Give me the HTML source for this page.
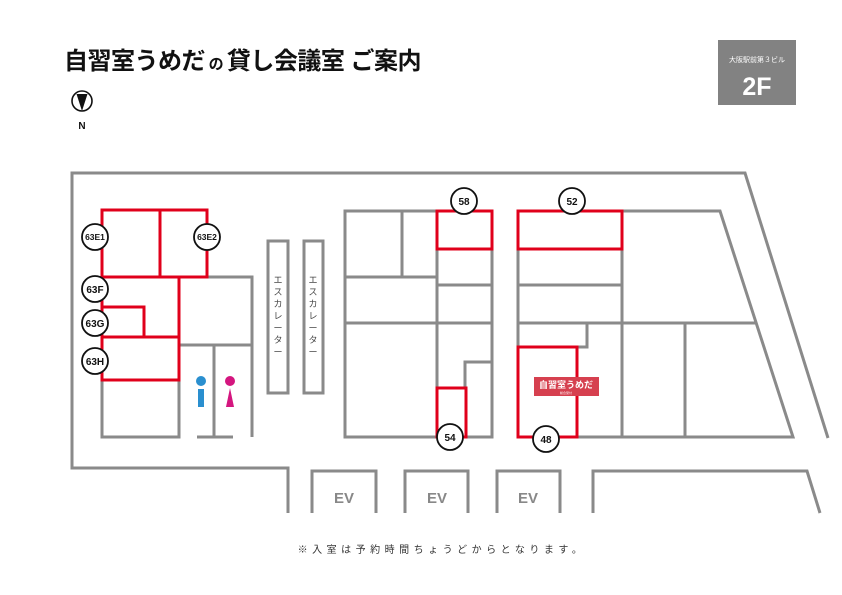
<!DOCTYPE html>
<html><head><meta charset="utf-8"><style>
body{margin:0;background:#fff;}
svg{display:block;font-family:"Liberation Sans","Noto Sans CJK JP",sans-serif;}
</style></head><body>
<svg width="842" height="595" viewBox="0 0 842 595" xmlns="http://www.w3.org/2000/svg">
<text x="64" y="69" font-size="24" font-weight="bold" fill="#111" letter-spacing="-0.5">自習室うめだ<tspan font-size="15"> の </tspan>貸し会議室 ご案内</text>
<circle cx="82" cy="101" r="10" fill="#fff" stroke="#111" stroke-width="1.6"/>
<path d="M76.5 94 L87.5 94 L82 111 Z" fill="#111"/>
<text x="82" y="129" font-size="10" font-weight="bold" text-anchor="middle" fill="#111">N</text>
<rect x="718" y="40" width="78" height="65" fill="#828282"/>
<text x="757" y="62" font-size="7" fill="#fff" text-anchor="middle">大阪駅前第３ビル</text>
<text x="757" y="95" font-size="25" font-weight="bold" fill="#fff" text-anchor="middle">2F</text>
<g fill="none" stroke="#8a8a8a" stroke-width="3">
<path d="M288 513 V468 H72 V173 H745 L828 438"/>
<path d="M312 513 V471 H376 V513"/>
<path d="M405 513 V471 H468 V513"/>
<path d="M497 513 V471 H560 V513"/>
<path d="M593 513 V471 H807 L820 513"/>
<path d="M207 277 H252 V437"/>
<path d="M179 345 H252"/>
<path d="M102 380 V437 H179 V380"/>
<path d="M214 345 V437 M197 437 H233"/>
<rect x="268" y="241" width="20" height="152"/>
<rect x="304" y="241" width="19" height="152"/>
<path d="M437 211 H345 V437 H492 V211"/>
<path d="M402 211 V277 M345 277 H437 M437 211 V437 M437 285 H492 M345 323 H492 M492 362 H465 V388"/>
<path d="M622 211 H720 L793 437 H518 V249"/>
<path d="M518 285 H622 M518 323 H755 M622 211 V437 M685 323 V437 M587 323 V347 H577"/>
</g>
<g fill="none" stroke="#e0001b" stroke-width="3">
<rect x="102" y="210" width="58" height="67"/>
<rect x="160" y="210" width="47" height="67"/>
<path d="M102 277 V380 H179 V277 M102 307 H144 V337 M102 337 H179"/>
<rect x="437" y="211" width="55" height="38"/>
<rect x="437" y="388" width="29" height="49"/>
<rect x="518" y="211" width="104" height="38"/>
<rect x="518" y="347" width="59" height="90"/>
</g>
<rect x="534" y="377" width="65" height="19" fill="#d6404f"/>
<text x="566" y="388" font-size="9" font-weight="bold" fill="#fff" text-anchor="middle">自習室うめだ</text>
<text x="566" y="394" font-size="3" fill="#fff" text-anchor="middle">総合受付</text>
<circle cx="201" cy="381" r="5" fill="#2a8fcf"/><rect x="198" y="389" width="6" height="18" fill="#2a8fcf"/>
<circle cx="230" cy="381" r="5" fill="#d4167f"/><path d="M230 388 L234 407 H226 Z" fill="#d4167f"/>
<g font-size="9" fill="#444" text-anchor="middle">
<text x="278" y="283">エ</text><text x="278" y="295">ス</text><text x="278" y="307">カ</text><text x="278" y="319">レ</text><text x="278" y="331">ー</text><text x="278" y="343">タ</text><text x="278" y="355">ー</text>
<text x="313" y="283">エ</text><text x="313" y="295">ス</text><text x="313" y="307">カ</text><text x="313" y="319">レ</text><text x="313" y="331">ー</text><text x="313" y="343">タ</text><text x="313" y="355">ー</text>
</g>
<g font-size="15" font-weight="bold" fill="#888" text-anchor="middle">
<text x="344" y="503">EV</text><text x="437" y="503">EV</text><text x="528" y="503">EV</text>
</g>
<g fill="#fff" stroke="#111" stroke-width="1.8">
<circle cx="95" cy="237" r="13"/><circle cx="207" cy="237" r="13"/>
<circle cx="95" cy="289" r="13"/><circle cx="95" cy="323" r="13"/><circle cx="95" cy="361" r="13"/>
<circle cx="464" cy="201" r="13"/><circle cx="572" cy="201" r="13"/>
<circle cx="450" cy="437" r="13"/><circle cx="546" cy="439" r="13"/>
</g>
<g font-size="10" font-weight="bold" fill="#111" text-anchor="middle">
<text x="95" y="240" font-size="8.5">63E1</text><text x="207" y="240" font-size="8.5">63E2</text>
<text x="95" y="293">63F</text><text x="95" y="327">63G</text><text x="95" y="365">63H</text>
<text x="464" y="205">58</text><text x="572" y="205">52</text>
<text x="450" y="441">54</text><text x="546" y="443">48</text>
</g>
<text x="442" y="553" font-size="10" fill="#333" text-anchor="middle" letter-spacing="4.5">※入室は予約時間ちょうどからとなります。</text>
</svg>
</body></html>
